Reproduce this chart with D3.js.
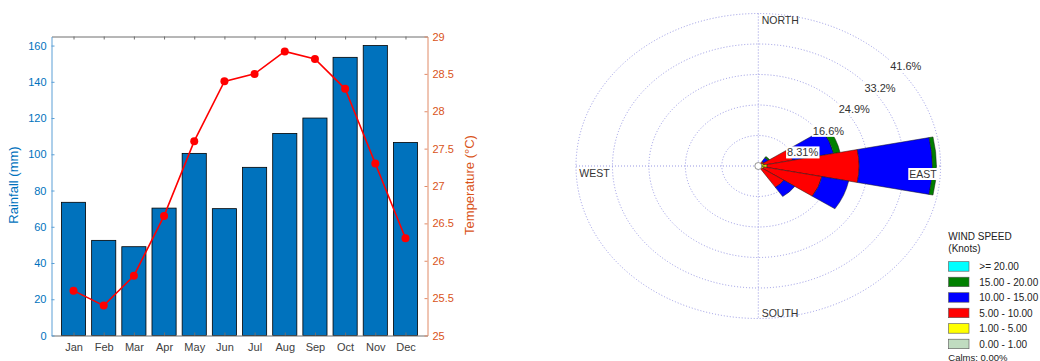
<!DOCTYPE html>
<html>
<head>
<meta charset="utf-8">
<script src="https://cdn.jsdelivr.net/npm/d3@7"></script>
<style>
body { margin: 0; background: #fff; }
svg { display: block; font-family: "Liberation Sans", Arial, Helvetica, sans-serif; }
</style>
</head>
<body>
<div id="chart"></div>
<script>
// rainfall / temperature data
var months = ["Jan","Feb","Mar","Apr","May","Jun","Jul","Aug","Sep","Oct","Nov","Dec"];
var rainfall = [73.5, 52.5, 49, 70.3, 100.5, 70, 92.8, 111.5, 120, 153.5, 160, 106.5];
var temperature = [25.6, 25.4, 25.8, 26.6, 27.6, 28.4, 28.5, 28.8, 28.7, 28.3, 27.3, 26.3];
var rainTicks = [0, 20, 40, 60, 80, 100, 120, 140, 160];
var tempTicks = [25, 25.5, 26, 26.5, 27, 27.5, 28, 28.5, 29];

// wind rose data (percent of time per direction and speed class)
var windDirs = ["N","NNE","NE","ENE","E","ESE","SE","SSE","S","SSW","SW","WSW","W","WNW","NW","NNW"];
var speedClasses = [">= 20.00","15.00 - 20.00","10.00 - 15.00","5.00 - 10.00","1.00 - 5.00","0.00 - 1.00"];
var speedColors = ["#00ffff","#008000","#0000ff","#ff0000","#ffff00","#c0dcc0"];
var spd0_1   = [0,0,0,  0,   0,   0,   0,  0,0,0,0,0,0,0,0,0];
var spd1_5   = [0,0,0.5,1.3, 2.0, 1.3, 0.8,0,0,0,0,0,0,0,0,0];
var spd5_10  = [0,0,1.0,6.7, 21.0,13.5,6.2,0,0,0,0,0,0,0,0,0];
var spd10_15 = [0,0,1.2,9.5, 16.7,6.2, 3.0,0,0,0,0,0,0,0,0,0];
var spd15_20 = [0,0,0.4,1.5, 0.9, 0,   0,  0,0,0,0,0,0,0,0,0];
var spd20    = [0,0,0,  0,   0,   0,   0,  0,0,0,0,0,0,0,0,0];
var ringValues = [8.31, 16.62, 24.93, 33.24, 41.55];
var ringLabels = ["8.31%","16.6%","24.9%","33.2%","41.6%"];
var calmsText = "Calms: 0.00%";

var W = 1040, H = 361;
var svg = d3.select("#chart").append("svg").attr("width", W).attr("height", H);

var blue = "#0072BD", orange = "#D95319";

// ---------- left chart ----------
var x = d3.scaleLinear().domain([0.27, 12.73]).range([51.5, 427.5]);
var yL = d3.scaleLinear().domain([0, 165]).range([335.5, 36.5]);
var yR = d3.scaleLinear().domain([25, 29]).range([335.5, 36.5]);
var barW = x(1.4) - x(0.6);

var left = svg.append("g");

left.selectAll("rect.bar").data(rainfall).enter().append("rect")
    .attr("class", "bar")
    .attr("x", function(d, i){ return x(i + 1) - barW / 2; })
    .attr("y", function(d){ return yL(d); })
    .attr("width", barW)
    .attr("height", function(d){ return yL(0) - yL(d); })
    .attr("fill", blue)
    .attr("stroke", "#000")
    .attr("stroke-width", 0.8);

// axes
var xAxisB = left.append("g").attr("transform", "translate(0," + yL(0) + ")")
    .call(d3.axisBottom(x).tickValues(d3.range(1, 13)).tickFormat(function(d){ return months[d - 1]; })
        .tickSize(-3).tickSizeOuter(0).tickPadding(8));
var xAxisT = left.append("g").attr("transform", "translate(0," + yL.range()[1] + ")")
    .call(d3.axisTop(x).tickValues(d3.range(1, 13)).tickFormat("").tickSize(-3).tickSizeOuter(0));
[xAxisB, xAxisT].forEach(function(a){
    a.selectAll("path,line").attr("stroke", "#6e6e6e");
    a.selectAll("text").attr("fill", "#404040").style("font-size", "11px");
});

var yAxisL = left.append("g").attr("transform", "translate(" + x.range()[0] + ",0)")
    .call(d3.axisLeft(yL).tickValues(rainTicks).tickSize(-3).tickSizeOuter(0).tickPadding(5));
yAxisL.selectAll("path,line").attr("stroke", "#5a9fd6");
yAxisL.selectAll("text").attr("fill", blue).style("font-size", "11px");

var yAxisR = left.append("g").attr("transform", "translate(" + x.range()[1] + ",0)")
    .call(d3.axisRight(yR).tickValues(tempTicks).tickFormat(function(d){ return d; })
        .tickSize(-3).tickSizeOuter(0).tickPadding(5));
yAxisR.selectAll("path,line").attr("stroke", "#e08a66");
yAxisR.selectAll("text").attr("fill", orange).style("font-size", "11px");

left.append("text").attr("transform", "translate(18,185) rotate(-90)")
    .attr("text-anchor", "middle").attr("fill", blue).style("font-size", "13px")
    .text("Rainfall (mm)");
left.append("text").attr("transform", "translate(474,185) rotate(-90)")
    .attr("text-anchor", "middle").attr("fill", orange).style("font-size", "13px")
    .text("Temperature (\u00B0C)");

// temperature line
var line = d3.line().x(function(d, i){ return x(i + 1); }).y(function(d){ return yR(d); });
left.append("path").attr("d", line(temperature))
    .attr("fill", "none").attr("stroke", "#ff0000").attr("stroke-width", 1.6);
left.selectAll("circle.pt").data(temperature).enter().append("circle")
    .attr("class", "pt")
    .attr("cx", function(d, i){ return x(i + 1); })
    .attr("cy", function(d){ return yR(d); })
    .attr("r", 4)
    .attr("fill", "#ff0000");

// ---------- wind rose ----------
var cx = 758.3, cy = 166;
var maxR = 41.55;
var rx = d3.scaleLinear().domain([0, maxR]).range([0, 182.3]);
var ry = d3.scaleLinear().domain([0, maxR]).range([0, 152.5]);
var kx = rx(maxR) / ry(maxR);
var gridCol = "#8c8ce0";

var rose = svg.append("g");

rose.selectAll("ellipse.ring").data(ringValues).enter().append("ellipse")
    .attr("class", "ring")
    .attr("cx", cx).attr("cy", cy)
    .attr("rx", function(d){ return rx(d); })
    .attr("ry", function(d){ return ry(d); })
    .attr("fill", "none").attr("stroke", gridCol).attr("stroke-width", 0.9)
    .attr("stroke-dasharray", "1,2");
rose.append("line").attr("x1", cx - rx(maxR)).attr("x2", cx + rx(maxR)).attr("y1", cy).attr("y2", cy)
    .attr("stroke", gridCol).attr("stroke-width", 0.9).attr("stroke-dasharray", "1,2");
rose.append("line").attr("x1", cx).attr("x2", cx).attr("y1", cy - ry(maxR)).attr("y2", cy + ry(maxR))
    .attr("stroke", gridCol).attr("stroke-width", 0.9).attr("stroke-dasharray", "1,2");

// stack speed classes (slow to fast) per direction
var bins = [spd0_1, spd1_5, spd5_10, spd10_15, spd15_20, spd20];
var binColors = speedColors.slice().reverse();
var segs = [];
windDirs.forEach(function(dname, i){
    var acc = 0;
    bins.forEach(function(b, j){
        if (b[i] > 0) {
            segs.push({dir: i, r0: acc, r1: acc + b[i], color: binColors[j]});
        }
        acc += b[i];
    });
});
var step = 2 * Math.PI / windDirs.length;
var arc = d3.arc()
    .innerRadius(function(d){ return ry(d.r0); })
    .outerRadius(function(d){ return ry(d.r1); })
    .startAngle(function(d){ return d.dir * step - step / 2; })
    .endAngle(function(d){ return d.dir * step + step / 2; });

var wedges = rose.append("g").attr("transform", "translate(" + cx + "," + cy + ") scale(" + kx + ",1)");
wedges.selectAll("path").data(segs).enter().append("path")
    .attr("d", arc)
    .attr("fill", function(d){ return d.color; })
    .attr("stroke", "#1a1a1a").attr("stroke-width", 0.5)
    .attr("vector-effect", "non-scaling-stroke");

rose.append("circle").attr("cx", cx).attr("cy", cy).attr("r", 3.5)
    .attr("fill", "#fff").attr("stroke", "#666").attr("stroke-width", 0.7);

// labels with white box
function boxedText(g, tx, ty, str, size) {
    var t = g.append("text").attr("x", tx).attr("y", ty).attr("fill", "#333")
        .style("font-size", size + "px").text(str);
    var bb = t.node().getBBox();
    g.insert("rect", function(){ return t.node(); })
        .attr("x", bb.x - 1).attr("y", bb.y).attr("width", bb.width + 2).attr("height", bb.height)
        .attr("fill", "#fff");
    return t;
}
var c45 = Math.SQRT1_2;
ringValues.forEach(function(v, i){
    boxedText(rose, cx + rx(v) * c45 + 3, cy - ry(v) * c45 + 12, ringLabels[i], 11);
});
rose.append("text").attr("x", 761.7).attr("y", 24).attr("fill", "#333").style("font-size", "10.5px").text("NORTH");
rose.append("text").attr("x", 761.7).attr("y", 316.5).attr("fill", "#333").style("font-size", "10.5px").text("SOUTH");
rose.append("text").attr("x", 579.3).attr("y", 177).attr("fill", "#333").style("font-size", "10.5px").text("WEST");
boxedText(rose, 909.3, 178, "EAST", 10.5);

// legend
var leg = svg.append("g");
leg.append("text").attr("x", 948.3).attr("y", 240.3).attr("fill", "#222").style("font-size", "10px").text("WIND SPEED");
leg.append("text").attr("x", 948.3).attr("y", 252).attr("fill", "#222").style("font-size", "10px").text("(Knots)");
var rowY = d3.scaleLinear().domain([0, 1]).range([261.7, 277.2]);
leg.selectAll("rect.sw").data(speedClasses).enter().append("rect")
    .attr("class", "sw")
    .attr("x", 948.5).attr("y", function(d, i){ return rowY(i); })
    .attr("width", 20.5).attr("height", 9.5)
    .attr("fill", function(d, i){ return speedColors[i]; })
    .attr("stroke", "#555").attr("stroke-width", 0.6);
leg.selectAll("text.lab").data(speedClasses).enter().append("text")
    .attr("class", "lab")
    .attr("x", 979.3).attr("y", function(d, i){ return rowY(i) + 8.3; })
    .attr("fill", "#222").style("font-size", "10px")
    .text(function(d){ return d; });
leg.append("text").attr("x", 948.3).attr("y", 360.5).attr("fill", "#222").style("font-size", "9.5px").text(calmsText);
</script>
</body>
</html>
